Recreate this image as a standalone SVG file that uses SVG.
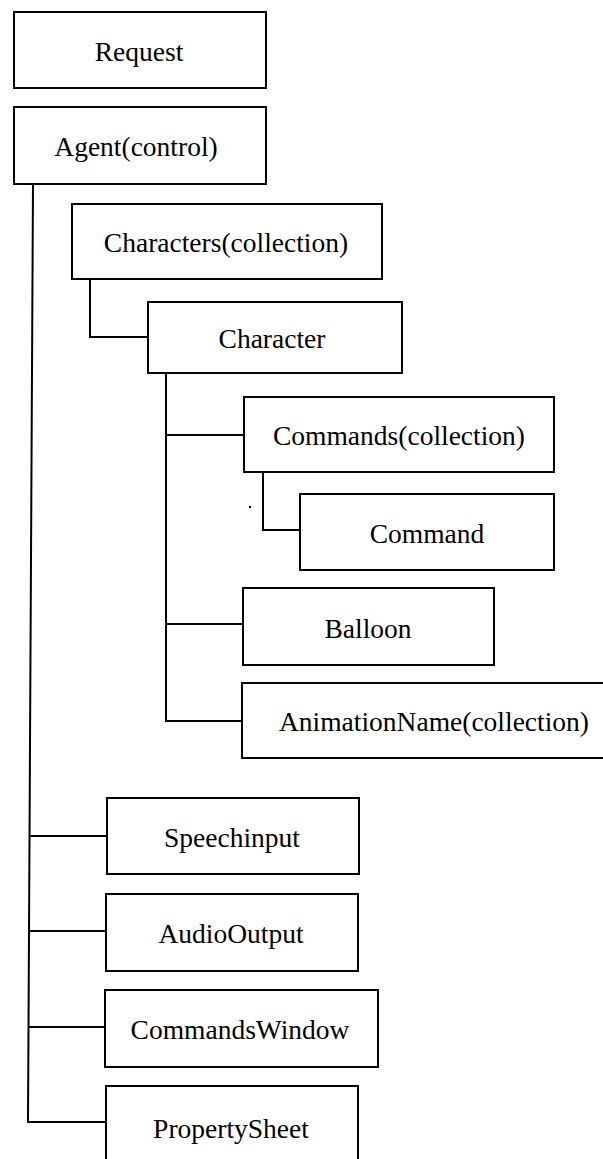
<svg xmlns="http://www.w3.org/2000/svg" width="603" height="1159" viewBox="0 0 603 1159">
<style>
.box{fill:#fff;stroke:#000;stroke-width:2}
.lbl{font-family:"Liberation Serif","Times New Roman",serif;font-size:27.5px;fill:#000;text-anchor:middle}
.con{fill:none;stroke:#000;stroke-width:2}
</style>
<rect width="603" height="1159" fill="#fff"/>
<g id="connectors">
<polyline class="con" points="33,184 28,1122 106,1122"/>
<line class="con" x1="30.5" y1="836" x2="107" y2="836"/>
<line class="con" x1="29.8" y1="931" x2="106" y2="931"/>
<line class="con" x1="29" y1="1027" x2="105" y2="1027"/>
<polyline class="con" points="90,279 90,337 148,337"/>
<polyline class="con" points="166,373 166,721 242,721"/>
<line class="con" x1="166" y1="435" x2="244" y2="435"/>
<line class="con" x1="166" y1="624" x2="243" y2="624"/>
<polyline class="con" points="263,472 263,530 300,530"/>
</g>
<circle cx="250" cy="507" r="1.2" fill="#000"/>
<g id="request"><rect class="box" x="14" y="12" width="252" height="76"/><text class="lbl" x="139" y="61">Request</text></g>
<g id="agent"><rect class="box" x="14" y="107" width="252" height="77"/><text class="lbl" x="136" y="156">Agent(control)</text></g>
<g id="characters"><rect class="box" x="72" y="204" width="310" height="75"/><text class="lbl" x="226" y="252">Characters(collection)</text></g>
<g id="character"><rect class="box" x="148" y="302" width="254" height="71"/><text class="lbl" x="272" y="348">Character</text></g>
<g id="commands"><rect class="box" x="244" y="397" width="310" height="75"/><text class="lbl" x="399" y="445">Commands(collection)</text></g>
<g id="command"><rect class="box" x="300" y="494" width="254" height="76"/><text class="lbl" x="427" y="543">Command</text></g>
<g id="balloon"><rect class="box" x="243" y="588" width="251" height="77"/><text class="lbl" x="368" y="638">Balloon</text></g>
<g id="animationname"><rect class="box" x="242" y="683" width="370" height="75"/><text class="lbl" x="434" y="731">AnimationName(collection)</text></g>
<g id="speechinput"><rect class="box" x="107" y="798" width="252" height="76"/><text class="lbl" x="232" y="847">Speechinput</text></g>
<g id="audiooutput"><rect class="box" x="106" y="894" width="252" height="77"/><text class="lbl" x="231" y="943">AudioOutput</text></g>
<g id="commandswindow"><rect class="box" x="105" y="990" width="273" height="77"/><text class="lbl" x="240" y="1039">CommandsWindow</text></g>
<g id="propertysheet"><rect class="box" x="106" y="1086" width="252" height="80"/><text class="lbl" x="231" y="1138">PropertySheet</text></g>
</svg>
